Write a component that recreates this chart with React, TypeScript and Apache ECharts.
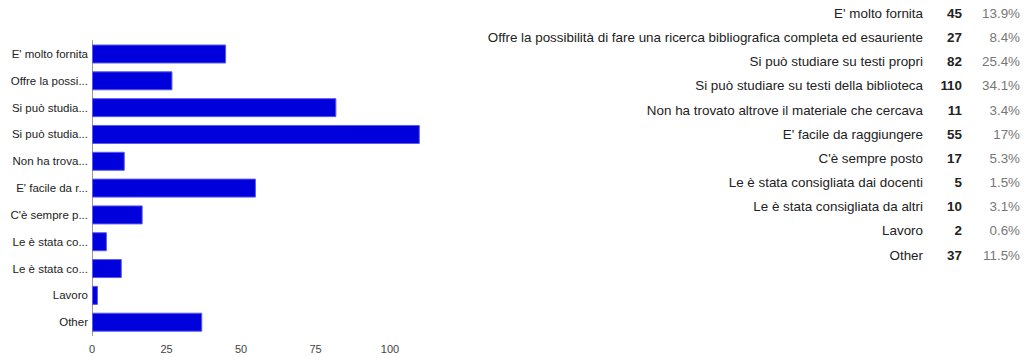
import React, { useEffect, useRef } from "react";
import * as echarts from "echarts";

const categories = [
  "E' molto fornita",
  "Offre la possibilità di fare una ricerca bibliografica completa ed esauriente",
  "Si può studiare su testi propri",
  "Si può studiare su testi della biblioteca",
  "Non ha trovato altrove il materiale che cercava",
  "E' facile da raggiungere",
  "C'è sempre posto",
  "Le è stata consigliata dai docenti",
  "Le è stata consigliata da altri",
  "Lavoro",
  "Other",
];
const shortLabels = [
  "E' molto fornita",
  "Offre la possi...",
  "Si può studia...",
  "Si può studia...",
  "Non ha trova...",
  "E' facile da r...",
  "C'è sempre p...",
  "Le è stata co...",
  "Le è stata co...",
  "Lavoro",
  "Other",
];
const counts = [45, 27, 82, 110, 11, 55, 17, 5, 10, 2, 37];
const percents = ["13.9%", "8.4%", "25.4%", "34.1%", "3.4%", "17%", "5.3%", "1.5%", "3.1%", "0.6%", "11.5%"];

export default function App() {
  const ref = useRef<HTMLDivElement>(null);
  useEffect(() => {
    if (!ref.current) return;
    const chart = echarts.init(ref.current, undefined, { renderer: "svg" });
    const font = "Arial, 'Liberation Sans', sans-serif";
    const rowTop = 13.5;
    const rowStep = 24.15;
    const graphics: any[] = [];
    categories.forEach((c, i) => {
      const y = rowTop + i * rowStep;
      graphics.push({
        type: "text",
        x: 923,
        y,
        style: { text: c, align: "right", verticalAlign: "middle", fill: "#222", font: `13.4px ${font}` },
      });
      graphics.push({
        type: "text",
        x: 962,
        y,
        style: { text: String(counts[i]), align: "right", verticalAlign: "middle", fill: "#222", font: `bold 13.4px ${font}` },
      });
      graphics.push({
        type: "text",
        x: 1020,
        y,
        style: { text: percents[i], align: "right", verticalAlign: "middle", fill: "#777", font: `13.4px ${font}` },
      });
    });
    chart.setOption({
      animation: false,
      grid: { left: 92, top: 40.6, width: 327.8, height: 295 },
      xAxis: {
        type: "value",
        min: 0,
        max: 110,
        interval: 25,
        axisLine: { show: false },
        axisTick: { show: false },
        splitLine: { show: false },
        axisLabel: { showMaxLabel: false, color: "#444", fontSize: 11, fontFamily: font, margin: 8 },
      },
      yAxis: {
        type: "category",
        data: categories,
        inverse: true,
        axisLine: { show: true, lineStyle: { color: "#999", width: 1 } },
        axisTick: { show: false },
        axisLabel: {
          color: "#222",
          fontSize: 11.5,
          fontFamily: font,
          margin: 4,
          formatter: (_v: string, idx: number) => shortLabels[idx],
        },
      },
      series: [
        {
          type: "bar",
          data: counts,
          barWidth: 19,
          itemStyle: { color: "#0000dc", borderColor: "#5a5aee", borderWidth: 1 },
        },
      ],
      graphic: graphics,
    });
    return () => chart.dispose();
  }, []);
  return (
    <div
      ref={ref}
      style={{ position: "absolute", left: 0, top: 0, width: 1026, height: 358, background: "#fff" }}
    />
  );
}
